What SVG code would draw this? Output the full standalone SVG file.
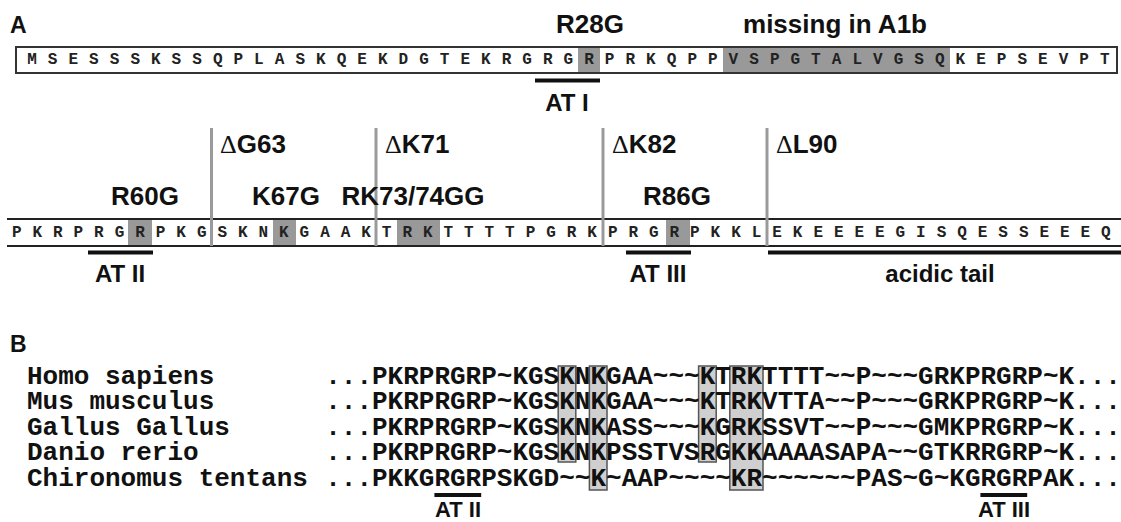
<svg xmlns="http://www.w3.org/2000/svg" width="1121" height="522" viewBox="0 0 1121 522">
<style>
.lbl{font-family:"Liberation Sans",Arial,sans-serif;font-weight:bold;font-size:26px;fill:#111}
.pl{font-family:"Liberation Sans",Arial,sans-serif;font-weight:bold;font-size:23px;fill:#111}
.at{font-family:"Liberation Sans",Arial,sans-serif;font-weight:bold;font-size:24px;fill:#111}
.d{font-family:"Liberation Serif","Times New Roman",serif;font-weight:normal}
.seq{font-family:"Liberation Mono","Courier New",monospace;font-weight:bold;font-size:16px;fill:#222;text-anchor:middle}
.aln{font-family:"Liberation Mono","Courier New",monospace;font-weight:bold;font-size:26px;fill:#111}
.hl{fill:#999}
.bx{fill:#cfcfcf;stroke:#555;stroke-width:1.5}
.bar{stroke:#111;stroke-width:4}
.sep{stroke:#9a9a9a;stroke-width:3}
.mid{text-anchor:middle}
</style>
<rect width="1121" height="522" fill="#fff"/>

<g id="panelA-labels">
<text class="pl" x="10" y="33">A</text>
<text class="lbl mid" x="590" y="33">R28G</text>
<text class="lbl mid" x="835" y="33">missing in A1b</text>
</g>

<g id="row1">
<rect x="16" y="47" width="1101" height="26" fill="#fff" stroke="#333" stroke-width="2"/>
<rect class="hl" x="578" y="48" width="22" height="24"/>
<rect class="hl" x="723" y="48" width="227" height="24"/>
<text class="seq" y="64" x="32 52.6 73.3 93.9 114.5 135.2 155.8 176.4 197 217.7 238.3 258.9 279.6 300.2 320.8 341.5 362.1 382.7 403.3 424 444.6 465.2 485.9 506.5 527.1 547.8 568.4 589 609.6 630.3 650.9 671.5 692.2 712.8 733.4 754.1 774.7 795.3 815.9 836.6 857.2 877.8 898.5 919.1 939.7 960.4 981 1001.6 1022.2 1042.9 1063.5 1084.1 1104.8">MSESSSKSSQPLASKQEKDGTEKRGRGRPRKQPPVSPGTALVGSQKEPSEVPT</text>
</g>

<g id="row2">
<rect class="hl" x="128" y="220" width="24" height="25"/>
<rect class="hl" x="273" y="220" width="23" height="25"/>
<rect class="hl" x="397" y="220" width="43" height="25"/>
<rect class="hl" x="666" y="220" width="24" height="25"/>
<line x1="7" y1="219" x2="1121" y2="219" stroke="#222" stroke-width="2"/>
<line x1="7" y1="246" x2="1121" y2="246" stroke="#222" stroke-width="2"/>
<text class="seq" y="237" x="16.7 37.3 57.8 78.4 98.9 119.5 140 160.6 181.1 201.7 222.2 242.8 263.3 283.9 304.4 325 345.5 366.1 386.6 407.2 427.7 448.3 468.8 489.4 509.9 530.5 551 571.6 592.1 612.7 633.2 653.8 674.3 694.9 715.4 736 756.5 777.1 797.6 818.2 838.7 859.3 879.8 900.4 920.9 941.5 962 982.6 1003.1 1023.7 1044.2 1064.8 1085.3 1105.9">PKRPRGRPKGSKNKGAAKTRKTTTTPGRKPRGRPKKLEKEEEEGISQESSEEEQ</text>
</g>

<g id="connectors">
<line class="sep" x1="211.5" y1="128" x2="211.5" y2="246"/>
<line class="sep" x1="376" y1="128" x2="376" y2="246"/>
<line class="sep" x1="603" y1="128" x2="603" y2="246"/>
<line class="sep" x1="767" y1="128" x2="767" y2="246"/>
<line class="bar" x1="535" y1="80.5" x2="600" y2="80.5"/>
<line class="bar" x1="88" y1="252.5" x2="153" y2="252.5"/>
<line class="bar" x1="626" y1="252.5" x2="691" y2="252.5"/>
<line class="bar" x1="768" y1="252.5" x2="1121" y2="252.5"/>
<line class="bar" x1="434.4" y1="495" x2="481.2" y2="495"/>
<line class="bar" x1="980.4" y1="495" x2="1027.2" y2="495"/>
</g>

<g id="row2-labels">
<text class="at mid" x="567" y="111">AT I</text>
<text class="lbl" x="220" y="153"><tspan class="d">Δ</tspan>G63</text>
<text class="lbl" x="385" y="153"><tspan class="d">Δ</tspan>K71</text>
<text class="lbl" x="612" y="153"><tspan class="d">Δ</tspan>K82</text>
<text class="lbl" x="776" y="153"><tspan class="d">Δ</tspan>L90</text>
<text class="lbl mid" x="145" y="205">R60G</text>
<text class="lbl mid" x="286" y="205">K67G</text>
<text class="lbl mid" x="413" y="205">RK73/74GG</text>
<text class="lbl mid" x="677" y="205">R86G</text>
<text class="at mid" x="120" y="282">AT II</text>
<text class="at mid" x="658" y="282">AT III</text>
<text class="at mid" x="940" y="282">acidic tail</text>
</g>

<g id="panelB">
<text class="pl" x="10" y="352">B</text>
<rect class="bx" x="558.2" y="366" width="17.6" height="96"/>
<rect class="bx" x="589.4" y="366" width="17.6" height="124"/>
<rect class="bx" x="698.6" y="366" width="17.6" height="96"/>
<rect class="bx" x="729.8" y="366" width="33.2" height="124"/>
<text class="aln" x="27" y="383.5">Homo sapiens</text>
<text class="aln" x="27" y="409.1">Mus musculus</text>
<text class="aln" x="27" y="434.7">Gallus Gallus</text>
<text class="aln" x="27" y="460.3">Danio rerio</text>
<text class="aln" x="27" y="485.9">Chironomus tentans</text>
<text class="aln" x="325.2" y="383.5">...PKRPRGRP~KGSKNKGAA~~~KTRKTTTT~~P~~~GRKPRGRP~K...</text>
<text class="aln" x="325.2" y="409.1">...PKRPRGRP~KGSKNKGAA~~~KTRKVTTA~~P~~~GRKPRGRP~K...</text>
<text class="aln" x="325.2" y="434.7">...PKRPRGRP~KGSKNKASS~~~KGRKSSVT~~P~~~GMKPRGRP~K...</text>
<text class="aln" x="325.2" y="460.3">...PKRPRGRP~KGSKNKPSSTVSRGKKAAAASAPA~~GTKRRGRP~K...</text>
<text class="aln" x="325.2" y="485.9">...PKKGRGRPSKGD~~K~AAP~~~~KR~~~~~~PAS~G~KGRGRPAK...</text>
<text class="at mid" x="458" y="517" style="font-size:22px">AT II</text>
<text class="at mid" x="1004" y="517" style="font-size:22px">AT III</text>
</g>
</svg>
